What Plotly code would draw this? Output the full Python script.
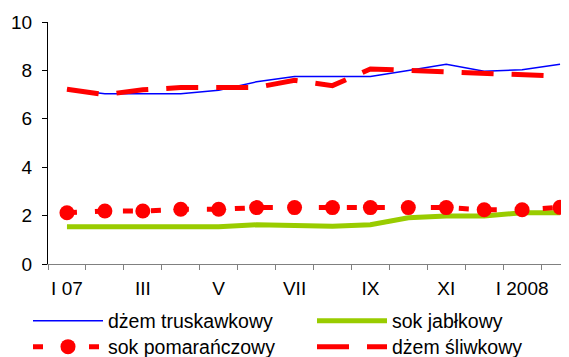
import plotly.graph_objects as go

months = ["I 07", "II", "III", "IV", "V", "VI", "VII", "VIII", "IX", "X", "XI", "XII", "I 2008", "II"]
dzem_truskawkowy = [7.22, 7.04, 7.04, 7.04, 7.18, 7.53, 7.75, 7.75, 7.75, 8.0, 8.25, 7.97, 8.03, 8.25]
sok_jablkowy = [1.54, 1.54, 1.54, 1.54, 1.54, 1.62, 1.57, 1.56, 1.62, 1.91, 1.98, 1.98, 2.12, 2.12]
sok_pomaranczowy = [2.12, 2.19, 2.19, 2.26, 2.26, 2.33, 2.33, 2.33, 2.33, 2.33, 2.33, 2.24, 2.24, 2.34]
dzem_sliwkowy = [7.22, 7.0, 7.2, 7.29, 7.29, 7.3, 7.59, 7.37, 8.06, 8.0, 7.97, 7.92, 7.86, 7.76]
tick_labels = ["I 07", "III", "V", "VII", "IX", "XI", "I 2008"]
tick_positions = [0, 2, 4, 6, 8, 10, 12]

x = list(range(len(months)))
font = "Liberation Sans, Arial, sans-serif"

fig = go.Figure()
fig.add_trace(go.Scatter(x=x, y=dzem_truskawkowy, name="dżem truskawkowy", mode="lines",
                         line=dict(color="#0000FF", width=1.5), text=months, legend="legend"))
fig.add_trace(go.Scatter(x=x, y=sok_jablkowy, name="sok jabłkowy", mode="lines",
                         line=dict(color="#99CC00", width=5), text=months, legend="legend2"))
fig.add_trace(go.Scatter(x=x, y=sok_pomaranczowy, name="sok pomarańczowy", mode="lines+markers",
                         line=dict(color="#FF0000", width=5, dash="10px,18px"),
                         marker=dict(color="#FF0000", size=15, symbol="circle"), text=months,
                         legend="legend3"))
fig.add_trace(go.Scatter(x=x, y=dzem_sliwkowy, name="dżem śliwkowy", mode="lines",
                         line=dict(color="#FF0000", width=5, dash="32px,18px"), text=months,
                         legend="legend4"))

# the page body adds an 8px offset; figure coordinates below compensate for it
W, H = 571, 357


def leg(px_x, px_y):
    return dict(orientation="h", xref="container", yref="container",
                x=px_x / W, xanchor="left", y=(H - px_y) / H, yanchor="middle",
                font=dict(size=19.5), itemwidth=70, bgcolor="rgba(0,0,0,0)")


fig.update_layout(
    width=W, height=H,
    margin=dict(l=40, r=0, t=14, b=101, autoexpand=False),
    paper_bgcolor="white", plot_bgcolor="white",
    font=dict(family=font, size=19, color="black"),
    showlegend=True,
    legend=leg(20, 313),
    legend2=leg(304, 313),
    legend3=leg(20, 339),
    legend4=leg(304, 339),
)
fig.update_xaxes(range=[-0.5, 13.5], showgrid=False, zeroline=False,
                 showline=True, linecolor="#808080", linewidth=1,
                 tickmode="array", tickvals=tick_positions, ticktext=tick_labels,
                 ticks="", ticklen=0, ticklabelstandoff=7,
                 minor=dict(ticks="outside", tick0=-0.5, dtick=1, ticklen=5, tickcolor="#808080", showgrid=False))
fig.update_yaxes(range=[0, 10], dtick=2, showgrid=False, zeroline=False,
                 showline=True, linecolor="#000000", linewidth=1,
                 ticks="outside", ticklen=5, tickcolor="#000000", ticklabelstandoff=6)

fig.write_html("out.html")
